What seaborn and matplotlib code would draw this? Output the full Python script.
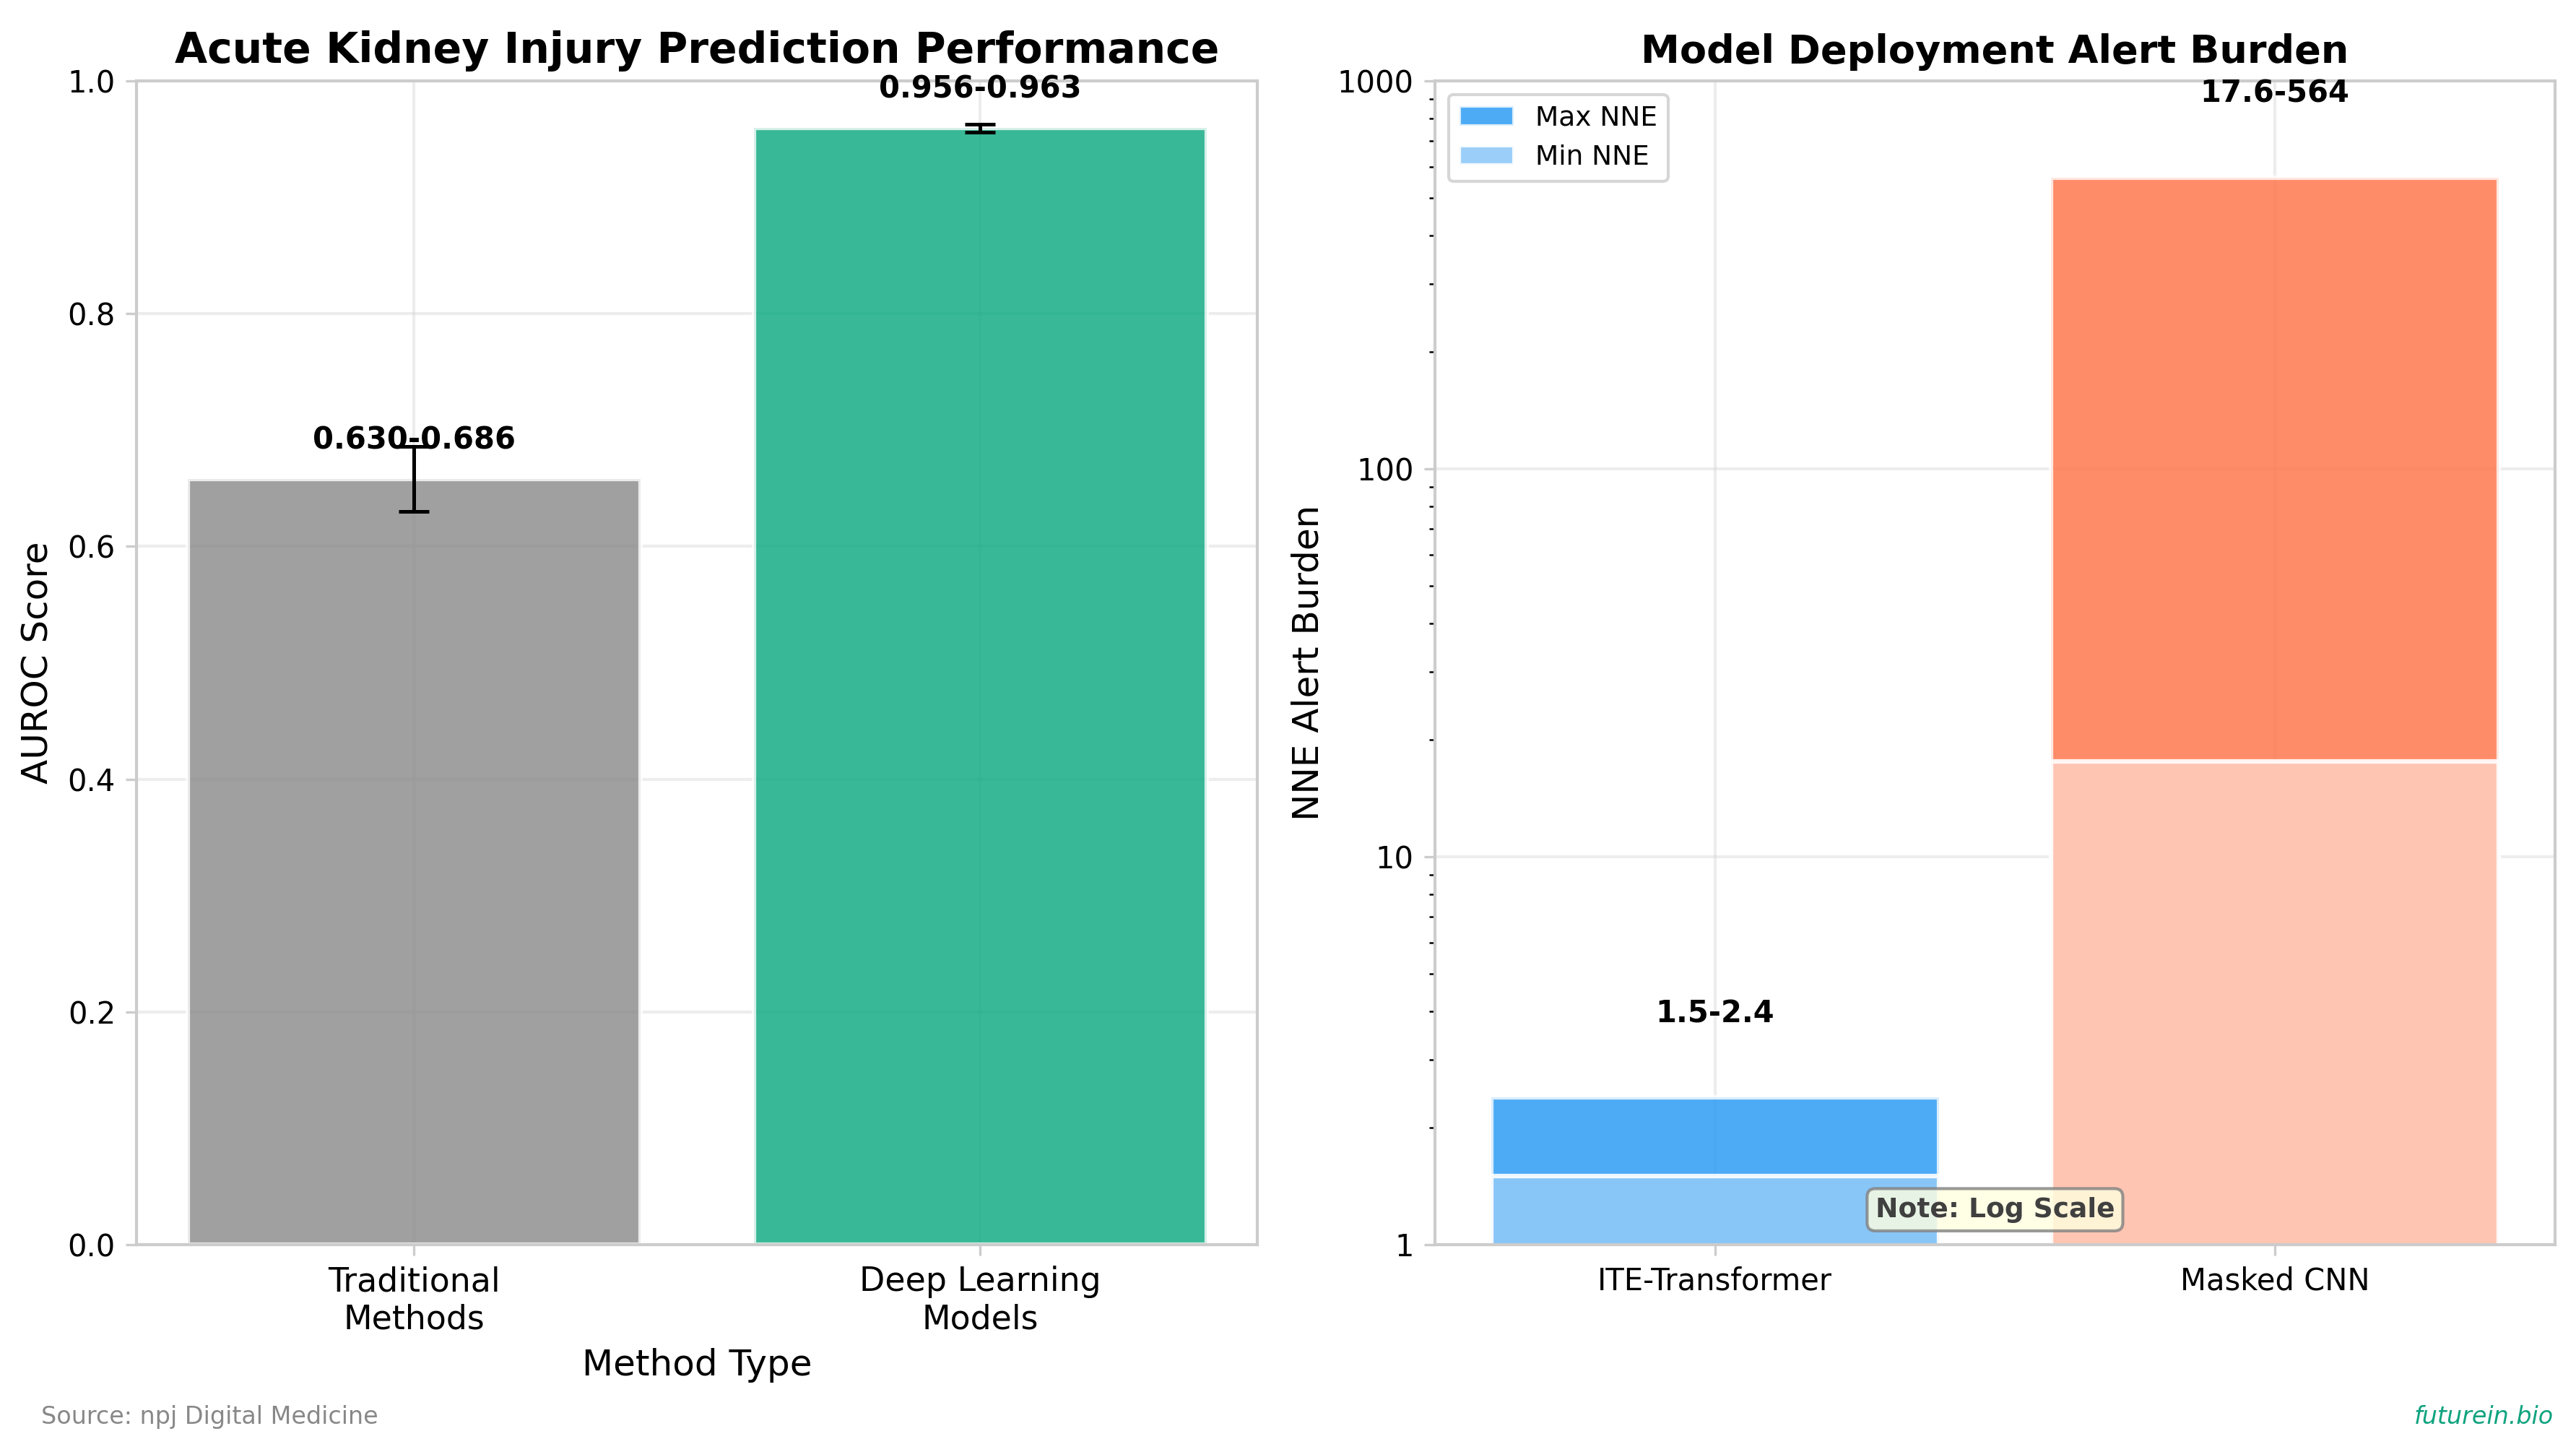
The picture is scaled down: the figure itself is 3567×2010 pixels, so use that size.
import matplotlib
matplotlib.use("Agg")
import matplotlib.pyplot as plt
import seaborn as sns
from matplotlib.patches import Patch

# left panel: AUROC ranges
methods = ["Traditional\nMethods", "Deep Learning\nModels"]
auroc_low = [0.630, 0.956]
auroc_high = [0.686, 0.963]
auroc_mid = [0.658, 0.9595]
method_colors = ["#888888", "#06A77D"]

# right panel: number needed to evaluate
models = ["ITE-Transformer", "Masked CNN"]
nne_min = [1.5, 17.6]
nne_max = [2.4, 564]
max_colors = ["#2196F3", "#FF7043"]
min_colors = ["#90CAF9", "#FFCCBC"]

sns.set_style("whitegrid")
plt.rcParams["font.family"] = ["DejaVu Sans"]
plt.rcParams["axes.edgecolor"] = "#cccccc"
plt.rcParams["axes.linewidth"] = 1.0
for key in ("text.color", "axes.labelcolor", "xtick.labelcolor", "ytick.labelcolor"):
    plt.rcParams[key] = "black"

fig = plt.figure(figsize=(11.893, 6.7), dpi=300)
ax1 = fig.add_axes([0.0530, 0.1428, 0.4350, 0.8015])
ax2 = fig.add_axes([0.5569, 0.1428, 0.4347, 0.8015])

# ---- left
sns.barplot(x=methods, y=auroc_mid, hue=methods, palette=method_colors, saturation=1,
            alpha=0.8, edgecolor="white", linewidth=1.5, legend=False, ax=ax1)
err_lo = [m - l for m, l in zip(auroc_mid, auroc_low)]
err_hi = [h - m for m, h in zip(auroc_mid, auroc_high)]
ax1.errorbar(range(len(methods)), auroc_mid, yerr=[err_lo, err_hi], fmt="none",
             ecolor="black", elinewidth=1.2, capsize=5, capthick=1.2)
for i, (lo, hi) in enumerate(zip(auroc_low, auroc_high)):
    ax1.text(i, auroc_mid[i] + 0.02, f"{lo:.3f}-{hi:.3f}", ha="center", va="bottom",
             fontsize=10, fontweight="bold")
ax1.set_ylim(0, 1)
ax1.set_title("Acute Kidney Injury Prediction Performance", fontsize=14, fontweight="bold")
ax1.set_ylabel("AUROC Score", fontsize=12)
ax1.set_xlabel("Method Type", fontsize=12)
ax1.tick_params(axis="x", labelsize=11)
ax1.tick_params(axis="y", labelsize=10)

# ---- right
sns.barplot(x=models, y=nne_max, hue=models, palette=max_colors, saturation=1,
            alpha=0.8, edgecolor="white", linewidth=1.5, legend=False, ax=ax2)
sns.barplot(x=models, y=nne_min, hue=models, palette=min_colors, saturation=1,
            alpha=0.9, edgecolor="white", linewidth=1.5, legend=False, ax=ax2)
ax2.set_yscale("log")
ax2.set_ylim(1, 1000)
ax2.set_yticks([1, 10, 100, 1000])
ax2.set_yticklabels(["1", "10", "100", "1000"])
for i, (lo, hi) in enumerate(zip(nne_min, nne_max)):
    ax2.text(i, hi * 1.5, f"{lo:g}-{hi:g}", ha="center", va="bottom",
             fontsize=10, fontweight="bold")
ax2.set_title("Model Deployment Alert Burden", fontsize=13, fontweight="bold")
ax2.set_ylabel("NNE Alert Burden", fontsize=12)
ax2.set_xlabel("")
ax2.tick_params(axis="both", labelsize=10)
ax2.text(0.5, 0.03, "Note: Log Scale", transform=ax2.transAxes, ha="center", va="center",
         fontsize=9, fontweight="bold", color="#404040",
         bbox=dict(boxstyle="round,pad=0.3", facecolor="lightyellow", edgecolor="gray", alpha=0.8))
handles = [Patch(facecolor=max_colors[0], alpha=0.8, edgecolor="white", label="Max NNE"),
           Patch(facecolor=min_colors[0], alpha=0.9, edgecolor="white", label="Min NNE")]
ax2.legend(handles=handles, loc="upper left", fontsize=9)

for ax in (ax1, ax2):
    ax.grid(True, color="#cccccc", alpha=0.35, linewidth=1)
    ax.set_axisbelow(True)
    ax.tick_params(which="major", length=3.5, color="#cccccc", left=True, bottom=True)
ax2.tick_params(which="minor", length=2, width=0.6, color="black", left=True, bottom=False)

fig.text(0.016, 0.024, "Source: npj Digital Medicine", fontsize=8, color="#888888", va="center")
fig.text(0.991, 0.024, "futurein.bio", fontsize=8, color="#10A37F", style="italic",
         ha="right", va="center")

fig.savefig("out.png", dpi=300)
